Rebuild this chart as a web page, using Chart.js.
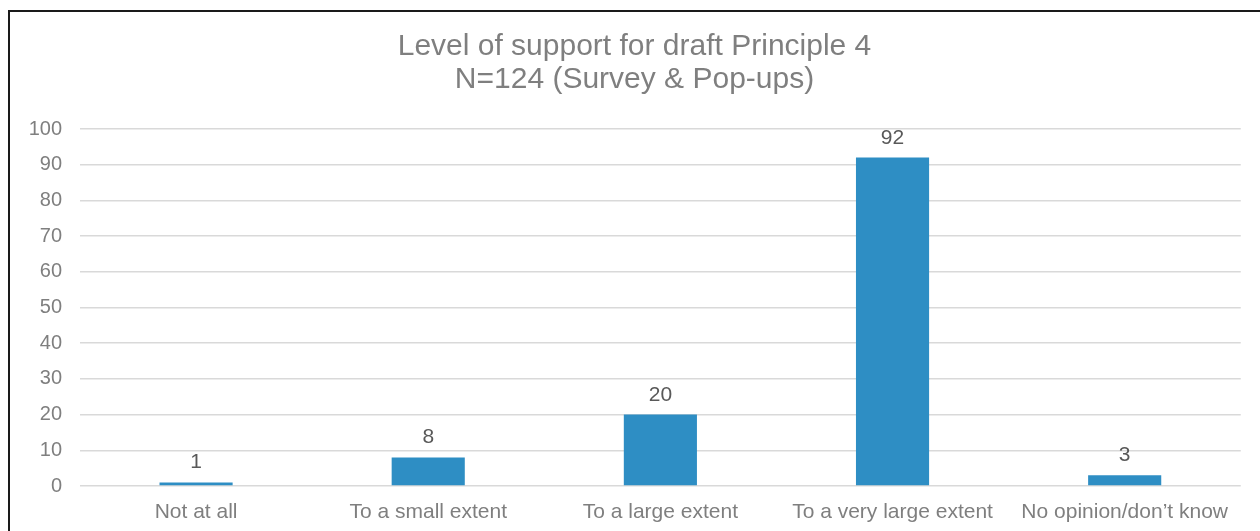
<!DOCTYPE html>
<html>
<head>
<meta charset="utf-8">
<script src="https://cdn.jsdelivr.net/npm/chart.js@4/dist/chart.umd.min.js"></script>
<style>
    html, body { margin: 0; padding: 0; background: #fff; }
    #wrap { position: relative; width: 1260px; height: 531px; overflow: hidden; background: #fff; }
    #supportChart { display: block; }
    #frame {
        position: absolute; left: 8px; top: 10px;
        width: 1300px; height: 600px;
        border: 2px solid #1a1a1a; box-sizing: border-box;
        pointer-events: none;
    }
</style>
</head>
<body>
<div id="wrap">
    <canvas id="supportChart" width="1242" height="531"></canvas>
    <div id="frame"></div>
</div>
<script>
// Dados do gráfico
const categories = ['Not at all', 'To a small extent', 'To a large extent', 'To a very large extent', 'No opinion/don\u2019t know'];
const responses = [1, 8, 20, 92, 3];
const titleLines = ['Level of support for draft Principle 4', 'N=124 (Survey & Pop-ups)'];

const FONT = '"Liberation Sans", Arial, sans-serif';

// Rótulos de valor acima das barras
const valueLabels = {
    id: 'valueLabels',
    afterDatasetsDraw(chart) {
        const ctx = chart.ctx;
        const meta = chart.getDatasetMeta(0);
        ctx.save();
        ctx.font = '21px ' + FONT;
        ctx.fillStyle = '#595959';
        ctx.textAlign = 'center';
        ctx.textBaseline = 'alphabetic';
        meta.data.forEach((bar, i) => {
            ctx.fillText(String(responses[i]), bar.x, bar.y - 14);
        });
        ctx.restore();
    }
};

new Chart(document.getElementById('supportChart'), {
    type: 'bar',
    data: {
        labels: categories,
        datasets: [{
            data: responses,
            backgroundColor: '#2E8EC4',
            borderWidth: 0,
            categoryPercentage: 1,
            barPercentage: 0.315
        }]
    },
    options: {
        responsive: false,
        animation: false,
        // padding esquerda maior para centralizar o título como no original
        layout: { padding: { left: 27, right: 0, top: 0, bottom: 0 } },
        plugins: {
            legend: { display: false },
            tooltip: { enabled: false },
            title: {
                display: true,
                text: titleLines,
                color: '#7f7f7f',
                font: { family: FONT, size: 30, weight: 'normal', lineHeight: 1.1 },
                padding: { top: 30, bottom: 33 }
            }
        },
        scales: {
            x: {
                grid: { display: false, drawTicks: false },
                border: { display: false },
                afterFit: (scale) => { scale.height = 45; },
                ticks: {
                    color: '#7f7f7f',
                    font: { family: FONT, size: 21 },
                    padding: 14,
                    maxRotation: 0,
                    autoSkip: false
                }
            },
            y: {
                min: 0,
                max: 100,
                grid: { color: '#d9d9d9', lineWidth: 1.5, drawTicks: false },
                border: { display: false },
                afterFit: (scale) => { scale.width = 53; },
                ticks: {
                    stepSize: 10,
                    color: '#7f7f7f',
                    font: { family: FONT, size: 20 },
                    padding: 18
                }
            }
        }
    },
    plugins: [valueLabels]
});
</script>
</body>
</html>
